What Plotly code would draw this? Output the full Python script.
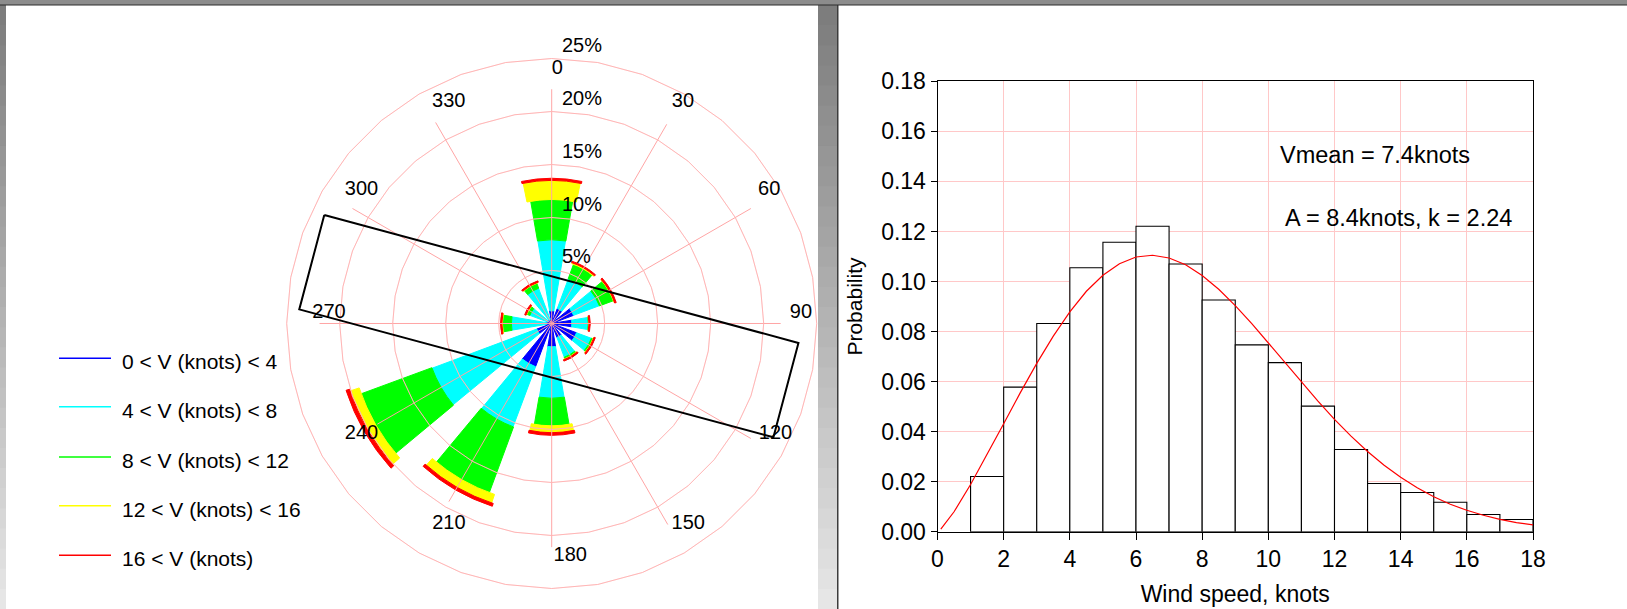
import plotly.graph_objects as go

W, H = 1627, 609
FONT = "Liberation Sans, Arial, sans-serif"

# ---------------- wind rose data (percent of time) ----------------
directions = [0, 30, 60, 90, 120, 150, 180, 210, 240, 270, 300, 330]
speed_labels = ["0 < V (knots) < 4", "4 < V (knots) < 8", "8 < V (knots) < 12",
                "12 < V (knots) < 16", "16 < V (knots)"]
speed_colors = ["#0000ff", "#00ffff", "#00ff00", "#ffff00", "#ff0000"]
freq_v0_4 = [1.2, 1.5, 2.2, 1.9, 2.5, 1.4, 2.2, 4.35, 1.5, 0.5, 0.4, 0.4]
freq_v4_8 = [6.7, 3.0, 2.6, 1.55, 1.5, 2.0, 4.85, 6.05, 10.55, 3.3, 1.8, 3.15]
freq_v8_12 = [3.8, 1.45, 1.4, 0.05, 0.15, 0.15, 2.6, 6.6, 7.1, 0.85, 0.3, 0.5]
freq_v12_16 = [1.8, 0.1, 0.05, 0.02, 0.05, 0.05, 0.65, 0.85, 0.9, 0.05, 0.05, 0.05]
freq_v16 = [0.2, 0.13, 0.15, 0.12, 0.13, 0.13, 0.25, 0.28, 0.35, 0.13, 0.13, 0.13]
rose_series = [freq_v0_4, freq_v4_8, freq_v8_12, freq_v12_16, freq_v16]

ring_values = [5, 10, 15, 20, 25]
ring_labels = ["5%", "10%", "15%", "20%", "25%"]
angle_labels = ["0", "30", "60", "90", "120", "150", "180", "210", "240", "270", "300", "330"]

# ---------------- histogram data ----------------
hist_speed = [1.5, 2.5, 3.5, 4.5, 5.5, 6.5, 7.5, 8.5, 9.5, 10.5, 11.5, 12.5,
              13.5, 14.5, 15.5, 16.5, 17.5]
hist_prob = [0.0221, 0.0578, 0.0832, 0.1055, 0.1157, 0.1221, 0.1070, 0.0926,
             0.0747, 0.0676, 0.0502, 0.0329, 0.0193, 0.0157, 0.0118, 0.0069, 0.0049]
fit_speed = [0.1, 0.5, 1.0, 1.5, 2.0, 2.5, 3.0, 3.5, 4.0, 4.5, 5.0, 5.5, 6.0, 6.5,
             7.0, 7.5, 8.0, 8.5, 9.0, 9.5, 10.0, 10.5, 11.0, 11.5, 12.0, 12.5,
             13.0, 13.5, 14.0, 14.5, 15.0, 15.5, 16.0, 16.5, 17.0, 17.5, 18.0]
fit_prob = [0.0011, 0.0080, 0.0189, 0.0308, 0.0432, 0.0555, 0.0673, 0.0782, 0.0879,
            0.0961, 0.1025, 0.1071, 0.1098, 0.1105, 0.1094, 0.1067, 0.1024, 0.0969,
            0.0904, 0.0832, 0.0755, 0.0677, 0.0598, 0.0522, 0.0449, 0.0382, 0.0321,
            0.0266, 0.0218, 0.0176, 0.0140, 0.0110, 0.0086, 0.0066, 0.0050, 0.0037,
            0.0028]

# ---------------- layout helpers (positions / styles) ----------------
def px(x):
    return x / W

def py(y):
    return 1 - y / H

R_MAX = 26.8
PPP = 10.6  # pixels per percent
CX, CY = 551.7, 323.5
rad_px = R_MAX * PPP
polar_dom_x = [px(CX - rad_px), px(CX + rad_px)]
polar_dom_y = [py(CY + rad_px), py(CY - rad_px)]

bar_widths = [19, 19, 19.5, 23, 24]
ring_label_r = [6.23, 11.16, 16.11, 21.08, 26.14]
ring_label_theta = [8.98, 5.0, 3.46, 2.64, 2.13]
angle_label_r = [24.05, 24.32, 24.06, 23.54, 23.54, 22.91, 22.01, 21.28, 20.74, 21.03, 21.9, 23.07]
angle_label_theta = [1.28, 30.62, 58.52, 87.6, 116.24, 145.8, 175.45, 207.1, 239.87, 272.7, 305.0, 335.1]
spoke_end = [22.1, 21.7, 21.7, 21.6, 21.7, 21.9, 21.1, 19.4, 19.0, 21.9, 21.7, 21.9]
box_r = [23.77, 23.35, 23.51, 23.85, 23.77]
box_theta = [295.5, 94.5, 117.17, 273.2, 295.5]
ring_theta = list(range(0, 361, 10))

RING_COLOR = "rgb(255,188,188)"
SPOKE_COLOR = "rgb(255,165,165)"

fig = go.Figure()

# spokes (under bars)
sp_r, sp_t = [], []
for d, e in zip(directions, spoke_end):
    sp_r += [0, e, None]
    sp_t += [d, d, None]
fig.add_trace(go.Scatterpolar(r=sp_r, theta=sp_t, mode="lines", subplot="polar",
                              line=dict(color=SPOKE_COLOR, width=1), hoverinfo="skip",
                              showlegend=False))
# rings (under bars)
for rv in ring_values:
    fig.add_trace(go.Scatterpolar(r=[rv] * len(ring_theta), theta=ring_theta, mode="lines",
                                  subplot="polar", line=dict(color=RING_COLOR, width=1),
                                  hoverinfo="skip", showlegend=False))

# stacked wind-rose bars
for vals, name, col, wd in zip(rose_series, speed_labels, speed_colors, bar_widths):
    fig.add_trace(go.Barpolar(r=vals, theta=directions, width=wd, name=name,
                              subplot="polar",
                              marker=dict(color=col, line=dict(color=col, width=1)),
                              showlegend=False))

# faint rings over bars
for rv in ring_values:
    fig.add_trace(go.Scatterpolar(r=[rv] * len(ring_theta), theta=ring_theta, mode="lines",
                                  subplot="polar", line=dict(color="rgba(255,170,170,0.3)", width=1),
                                  hoverinfo="skip", showlegend=False))

# black box
fig.add_trace(go.Scatterpolar(r=box_r, theta=box_theta, mode="lines", subplot="polar",
                              line=dict(color="black", width=2), hoverinfo="skip",
                              showlegend=False))

# ring labels and direction labels
fig.add_trace(go.Scatterpolar(r=ring_label_r, theta=ring_label_theta, text=ring_labels,
                              mode="text", textposition="middle right", subplot="polar",
                              cliponaxis=False, textfont=dict(family=FONT, size=20, color="black"),
                              hoverinfo="skip", showlegend=False))
fig.add_trace(go.Scatterpolar(r=angle_label_r, theta=angle_label_theta, text=angle_labels,
                              mode="text", textposition="middle center", subplot="polar",
                              cliponaxis=False, textfont=dict(family=FONT, size=20, color="black"),
                              hoverinfo="skip", showlegend=False))

# ---------------- histogram ----------------
fig.add_trace(go.Bar(x=hist_speed, y=hist_prob, width=1, xaxis="x", yaxis="y",
                     marker=dict(color="white", line=dict(color="black", width=1.1)),
                     showlegend=False))
fig.add_trace(go.Scatter(x=fit_speed, y=fit_prob, mode="lines", xaxis="x", yaxis="y",
                         line=dict(color="red", width=1.2), showlegend=False))

GRID = "rgb(255,200,200)"
hx0, hx1 = 937.5, 1533.0
hy_top, hy_bot = 81.3, 531.8

shapes = []
annotations = []

# legend (manual, line symbols)
leg_y = [358.3, 406.7, 457.0, 505.7, 555.3]
for lab, col, yy in zip(speed_labels, speed_colors, leg_y):
    shapes.append(dict(type="line", xref="paper", yref="paper", x0=px(59), x1=px(111),
                       y0=py(yy), y1=py(yy), line=dict(color=col, width=1.5)))
    annotations.append(dict(text=lab, xref="paper", yref="paper", x=px(119.5), y=py(yy + 3.5),
                            xanchor="left", yanchor="middle", showarrow=False,
                            font=dict(family=FONT, size=21, color="black")))

annotations.append(dict(text="Vmean = 7.4knots", xref="x", yref="y", x=10.3, y=0.1505,
                        xanchor="left", yanchor="middle", showarrow=False,
                        font=dict(family=FONT, size=23.5, color="black")))
annotations.append(dict(text="A = 8.4knots, k = 2.24", xref="x", yref="y", x=10.45, y=0.1255,
                        xanchor="left", yanchor="middle", showarrow=False,
                        font=dict(family=FONT, size=23.5, color="black")))

# window frame decoration
def band(x0, x1, y0, y1, c):
    return dict(type="rect", xref="paper", yref="paper", x0=px(x0), x1=px(x1),
                y0=py(y1), y1=py(y0), fillcolor=c, line=dict(width=0), layer="above")

nb = 30
for i in range(nb):
    y0 = 5 + (H - 5) * i / nb
    y1 = 5 + (H - 5) * (i + 1) / nb + 1
    g = int(125 + (230 - 125) * i / (nb - 1))
    c = f"rgb({g},{g},{g})"
    shapes.append(band(0, 6, y0, y1, c))
    shapes.append(band(818, 837, y0, y1, c))
shapes.append(band(837, 838.5, 5, H, "rgb(60,60,60)"))
shapes.append(band(0, W, 0, 5, "rgb(140,140,140)"))
shapes.append(band(0, W, 4.5, 5.5, "rgb(45,45,45)"))

hidden_axis = dict(showline=False, showticklabels=False, ticks="", showgrid=False)

fig.update_layout(
    width=W, height=H,
    autosize=False,
    margin=dict(l=0, r=0, t=0, b=0, pad=0, autoexpand=False),
    paper_bgcolor="white", plot_bgcolor="white",
    showlegend=False,
    polar=dict(
        domain=dict(x=polar_dom_x, y=polar_dom_y),
        bgcolor="rgba(0,0,0,0)",
        barmode="stack",
        radialaxis=dict(range=[0, R_MAX], autorange=False, **hidden_axis),
        angularaxis=dict(rotation=90, direction="clockwise", **hidden_axis),
    ),
    xaxis=dict(domain=[px(hx0), px(hx1)], range=[0, 18], tickmode="array",
               tickvals=[0, 2, 4, 6, 8, 10, 12, 14, 16, 18], automargin=False,
               showgrid=True, gridcolor=GRID, gridwidth=1, zeroline=False,
               showline=True, linecolor="black", linewidth=1, mirror=True,
               ticks="outside", ticklen=7, tickcolor="black",
               tickfont=dict(family=FONT, size=23, color="black"),
               title=dict(text="Wind speed, knots", standoff=14,
                          font=dict(family=FONT, size=23, color="black"))),
    yaxis=dict(domain=[py(hy_bot), py(hy_top)], range=[0, 0.18], dtick=0.02, tick0=0,
               tickformat=".2f", automargin=False,
               showgrid=True, gridcolor=GRID, gridwidth=1, zeroline=False,
               showline=True, linecolor="black", linewidth=1, mirror=True,
               ticks="outside", ticklen=6, tickcolor="black",
               tickfont=dict(family=FONT, size=23, color="black"),
               title=dict(text="Probability", standoff=12,
                          font=dict(family=FONT, size=21, color="black"))),
    shapes=shapes,
    annotations=annotations,
)

fig.write_html("out.html", config={"displayModeBar": False, "responsive": False},
               post_script="document.body.style.margin='0px';document.body.style.overflow='hidden';")
